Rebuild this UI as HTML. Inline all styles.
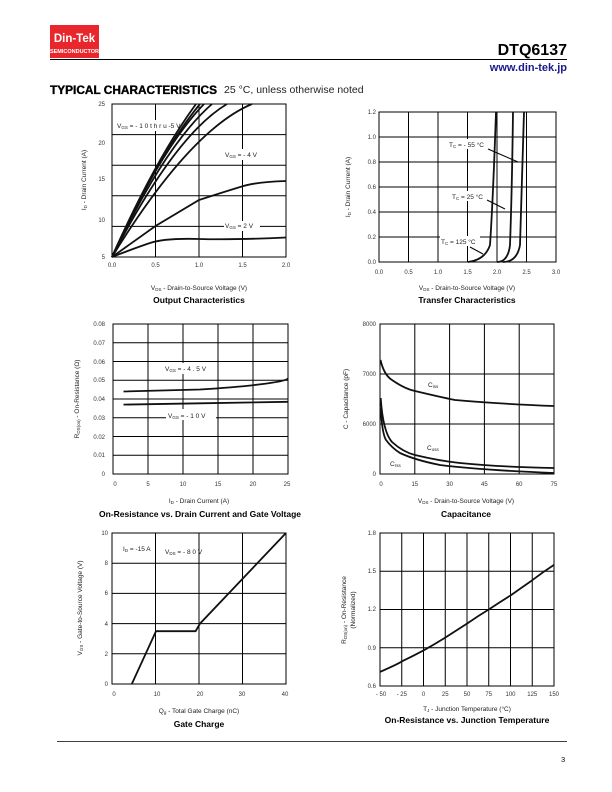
<!DOCTYPE html>
<html><head><meta charset="utf-8"><style>
html,body{margin:0;padding:0;background:#fff}
svg{display:block;font-family:"Liberation Sans",Arial,sans-serif}
.t{font-size:6.5px;fill:#222}
.ax{font-size:6px;fill:#333}
.ti{font-size:8.5px;font-weight:bold;fill:#000}
.g{stroke:#000;stroke-width:1;fill:none}
.c{stroke:#111;stroke-width:1.8;fill:none}
</style></head><body>
<svg width="612" height="792" viewBox="0 0 612 792">
<!-- header -->
<rect x="50" y="25" width="49" height="33" fill="#e8262b"/>
<text x="74.5" y="42" text-anchor="middle" font-size="11.5" font-weight="bold" fill="#fff">Din-Tek</text>
<text x="74.5" y="53" text-anchor="middle" font-size="5.5" font-weight="bold" fill="#fff">SEMICONDUCTOR</text>
<text x="567" y="55" text-anchor="end" font-size="16" font-weight="bold">DTQ6137</text>
<line x1="50" y1="59.5" x2="567" y2="59.5" stroke="#000" stroke-width="1"/>
<text x="567" y="71" text-anchor="end" font-size="11" font-weight="bold" fill="#1a1a8c">www.din-tek.jp</text>
<text x="50" y="94" font-size="11.5" font-weight="bold" stroke="#000" stroke-width="0.35" textLength="167" lengthAdjust="spacingAndGlyphs">TYPICAL CHARACTERISTICS</text>
<text x="224" y="93" font-size="10.5" fill="#222">25 °C, unless otherwise noted</text>

<!-- Plot1 -->
<g>
<rect x="112" y="104" width="174" height="153" class="g"/>
<path class="g" d="M155.5 104V257M199 104V257M242.5 104V257M112 134.6H286M112 165.2H286M112 195.8H286M112 226.4H286"/>
<path class="c" d="M112 257Q135 248 150 243T199 239T286 237.5"/>
<path class="c" d="M112 257L155.5 226L199 200Q230 190 243.5 186T286 181"/>
<path class="c" d="M112 257Q190 130 252 104"/>
<path class="c" d="M112 257Q175 135 227 104"/>
<path class="c" d="M112 257Q165 145 212 104"/>
<path class="c" d="M112 257Q160 150 204 104"/>
<path class="c" d="M112 257Q158 155 200 104"/>
<path class="c" d="M112 257Q155 160 196 104"/>
<rect x="116" y="120" width="46" height="11" fill="#fff"/>
<text x="117" y="128" class="t">V<tspan font-size="4.5" dy="1">GS</tspan><tspan dy="-1"> = - 1 0 t h r u -5 V</tspan></text>
<rect x="224" y="149" width="42" height="11" fill="#fff"/>
<text x="225" y="157" class="t">V<tspan font-size="4.5" dy="1">GS</tspan><tspan dy="-1"> = - 4  V</tspan></text>
<rect x="224" y="221" width="36" height="10" fill="#fff"/>
<text x="225" y="228" class="t">V<tspan font-size="4.5" dy="1">GS</tspan><tspan dy="-1"> = 2 V</tspan></text>
<g class="ax" text-anchor="end"><text x="105" y="106">25</text><text x="105" y="145">20</text><text x="105" y="181">15</text><text x="105" y="222">10</text><text x="105" y="259">5</text></g>
<g class="ax" text-anchor="middle"><text x="112" y="267">0.0</text><text x="155.5" y="267">0.5</text><text x="199" y="267">1.0</text><text x="242.5" y="267">1.5</text><text x="286" y="267">2.0</text></g>
<text x="199" y="290" class="t" text-anchor="middle">V<tspan font-size="4.5" dy="1">DS</tspan><tspan dy="-1"> - Drain-to-Source Voltage (V)</tspan></text>
<text x="199" y="303" class="ti" text-anchor="middle">Output Characteristics</text>
<text transform="translate(86 180) rotate(-90)" class="t" text-anchor="middle">I<tspan font-size="4.5" dy="1">D</tspan><tspan dy="-1"> - Drain Current (A)</tspan></text>
</g>

<!-- Plot2 -->
<g>
<rect x="379" y="112" width="177" height="150" class="g"/>
<path class="g" d="M408.5 112V262M438 112V262M467.5 112V262M497 112V262M526.5 112V262M379 137H556M379 162H556M379 187H556M379 212H556M379 237H556"/>
<path class="c" d="M468 262Q485 260 490 245Q493 200 496 112"/>
<path class="c" d="M497 262Q508 262 510 245Q512 190 513 112"/>
<path class="c" d="M503 262Q517 262 520 245Q522 180 524 112"/>
<rect x="448" y="139" width="44" height="10" fill="#fff"/>
<text x="449" y="147" class="t">T<tspan font-size="4.5" dy="1">C</tspan><tspan dy="-1"> = - 55 °C</tspan></text>
<line x1="488" y1="149" x2="518" y2="162" stroke="#000" stroke-width="1"/>
<rect x="451" y="191" width="40" height="10" fill="#fff"/>
<text x="452" y="199" class="t">T<tspan font-size="4.5" dy="1">C</tspan><tspan dy="-1"> = 25 °C</tspan></text>
<line x1="487" y1="200" x2="505" y2="209" stroke="#000" stroke-width="1"/>
<rect x="440" y="236" width="40" height="10" fill="#fff"/>
<text x="441" y="244" class="t">T<tspan font-size="4.5" dy="1">C</tspan><tspan dy="-1"> = 125 °C</tspan></text>
<line x1="470" y1="247" x2="483" y2="254" stroke="#000" stroke-width="1"/>
<g class="ax" text-anchor="end"><text x="376" y="114">1.2</text><text x="376" y="139">1.0</text><text x="376" y="164">0.8</text><text x="376" y="189">0.6</text><text x="376" y="214">0.4</text><text x="376" y="239">0.2</text><text x="376" y="264">0.0</text></g>
<g class="ax" text-anchor="middle"><text x="379" y="274">0.0</text><text x="408.5" y="274">0.5</text><text x="438" y="274">1.0</text><text x="467.5" y="274">1.5</text><text x="497" y="274">2.0</text><text x="526.5" y="274">2.5</text><text x="556" y="274">3.0</text></g>
<text x="467" y="290" class="t" text-anchor="middle">V<tspan font-size="4.5" dy="1">DS</tspan><tspan dy="-1"> - Drain-to-Source Voltage (V)</tspan></text>
<text x="467" y="303" class="ti" text-anchor="middle">Transfer Characteristics</text>
<text transform="translate(350 187) rotate(-90)" class="t" text-anchor="middle">I<tspan font-size="4.5" dy="1">D</tspan><tspan dy="-1"> - Drain Current (A)</tspan></text>
</g>

<!-- Plot3 -->
<g>
<rect x="113" y="324" width="175" height="150" class="g"/>
<path class="g" d="M148 324V474M183 324V474M218 324V474M253 324V474M113 342.75H288M113 361.5H288M113 380.25H288M113 399H288M113 417.75H288M113 436.5H288M113 455.25H288"/>
<path class="c" d="M123.5 391.5L200 389.5Q240 387 263 384T288 378.4"/>
<path class="c" d="M123.5 404.6L200 403.3L288 401.8"/>
<rect x="162" y="363" width="52" height="11" fill="#fff"/>
<text x="165" y="371" class="t">V<tspan font-size="4.5" dy="1">GS</tspan><tspan dy="-1"> = - 4 . 5  V</tspan></text>
<rect x="166" y="409" width="50" height="11" fill="#fff"/>
<text x="168" y="418" class="t">V<tspan font-size="4.5" dy="1">GS</tspan><tspan dy="-1"> = - 1 0  V</tspan></text>
<g class="ax" text-anchor="end"><text x="105" y="326">0.08</text><text x="105" y="345">0.07</text><text x="105" y="364">0.06</text><text x="105" y="382">0.05</text><text x="105" y="401">0.04</text><text x="105" y="420">0.03</text><text x="105" y="439">0.02</text><text x="105" y="457">0.01</text><text x="105" y="476">0</text></g>
<g class="ax" text-anchor="middle"><text x="115" y="486">0</text><text x="148" y="486">5</text><text x="183" y="486">10</text><text x="218" y="486">15</text><text x="253" y="486">20</text><text x="287" y="486">25</text></g>
<text x="199" y="503" class="t" text-anchor="middle">I<tspan font-size="4.5" dy="1">D</tspan><tspan dy="-1"> - Drain Current (A)</tspan></text>
<text x="200" y="517" class="ti" text-anchor="middle">On-Resistance vs. Drain Current and Gate Voltage</text>
<text transform="translate(79 399) rotate(-90)" class="t" text-anchor="middle">R<tspan font-size="4.5" dy="1">DS(on)</tspan><tspan dy="-1"> - On-Resistance (Ω)</tspan></text>
</g>

<!-- Plot4 -->
<g>
<rect x="380" y="324" width="174" height="150" class="g"/>
<path class="g" d="M414.8 324V474M449.6 324V474M484.4 324V474M519.2 324V474M380 374H554M380 424H554"/>
<path class="c" d="M380.5 360Q384 375 392 380Q405 389 415 391Q440 397 455 400Q500 404 554 406"/>
<path class="c" stroke="#555" d="M380.7 398Q383 432 392 442Q403 452 415 455Q440 461 460 463Q500 467 554 468"/>
<path class="c" d="M380.7 408Q382 433 386 440Q392 448 400 453Q415 460 440 465Q480 470 554 473"/>
<text x="428" y="387" class="t">C<tspan font-size="4.5" dy="1">iss</tspan></text>
<text x="427" y="450" class="t">C<tspan font-size="4.5" dy="1">oss</tspan></text>
<text x="390" y="466" class="t">C<tspan font-size="4.5" dy="1">rss</tspan></text>
<g class="ax" text-anchor="end"><text x="376" y="326">8000</text><text x="376" y="376">7000</text><text x="376" y="426">6000</text><text x="376" y="476">0</text></g>
<g class="ax" text-anchor="middle"><text x="381" y="486">0</text><text x="414.8" y="486">15</text><text x="449.6" y="486">30</text><text x="484.4" y="486">45</text><text x="519.2" y="486">60</text><text x="554" y="486">75</text></g>
<text x="466" y="503" class="t" text-anchor="middle">V<tspan font-size="4.5" dy="1">DS</tspan><tspan dy="-1"> - Drain-to-Source Voltage (V)</tspan></text>
<text x="466" y="517" class="ti" text-anchor="middle">Capacitance</text>
<text transform="translate(348 399) rotate(-90)" class="t" text-anchor="middle">C - Capacitance (pF)</text>
</g>

<!-- Plot5 -->
<g>
<rect x="112" y="533" width="174" height="151" class="g"/>
<path class="g" d="M155.5 533V684M199 533V684M242.5 533V684M112 563.2H286M112 593.4H286M112 623.6H286M112 653.8H286"/>
<path class="c" d="M131.8 684L156 631.2L195.6 631.2L200 623.6L286 533"/>
<rect x="121" y="543" width="34" height="10" fill="#fff"/>
<text x="123" y="551" class="t">I<tspan font-size="4.5" dy="1">D</tspan><tspan dy="-1"> = -15 A</tspan></text>
<text x="165" y="554" class="t">V<tspan font-size="4.5" dy="1">DS</tspan><tspan dy="-1"> = - 8 0  V</tspan></text>
<g class="ax" text-anchor="end"><text x="108" y="535">10</text><text x="108" y="565">8</text><text x="108" y="595">6</text><text x="108" y="626">4</text><text x="108" y="656">2</text><text x="108" y="686">0</text></g>
<g class="ax" text-anchor="middle"><text x="114" y="696">0</text><text x="157" y="696">10</text><text x="200" y="696">20</text><text x="242" y="696">30</text><text x="285" y="696">40</text></g>
<text x="199" y="713" class="t" text-anchor="middle">Q<tspan font-size="4.5" dy="1">g</tspan><tspan dy="-1"> - Total Gate Charge (nC)</tspan></text>
<text x="199" y="727" class="ti" text-anchor="middle">Gate Charge</text>
<text transform="translate(82 608) rotate(-90)" class="t" text-anchor="middle">V<tspan font-size="4.5" dy="1">GS</tspan><tspan dy="-1"> - Gate-to-Source Voltage (V)</tspan></text>
</g>

<!-- Plot6 -->
<g>
<rect x="380" y="533" width="174" height="153" class="g"/>
<path class="g" d="M401.75 533V686M423.5 533V686M445.25 533V686M467 533V686M488.75 533V686M510.5 533V686M532.25 533V686M380 571.25H554M380 609.5H554M380 647.75H554"/>
<path class="c" d="M380 671.9Q400 663 401.75 661.4Q413 656 423.5 650.4Q435 644 445.25 637.6Q457 630 467 623.6Q478 616 488.75 609.5Q500 602 510.5 595.5Q521 588 532.25 580.2Q543 572 554 564.9"/>
<g class="ax" text-anchor="end"><text x="376" y="535">1.8</text><text x="376" y="573">1.5</text><text x="376" y="611">1.2</text><text x="376" y="650">0.9</text><text x="376" y="688">0.6</text></g>
<g class="ax" text-anchor="middle"><text x="381" y="696">- 50</text><text x="401.75" y="696">- 25</text><text x="423.5" y="696">0</text><text x="445.25" y="696">25</text><text x="467" y="696">50</text><text x="488.75" y="696">75</text><text x="510.5" y="696">100</text><text x="532.25" y="696">125</text><text x="554" y="696">150</text></g>
<text x="467" y="711" class="t" text-anchor="middle">T<tspan font-size="4.5" dy="1">J</tspan><tspan dy="-1"> - Junction Temperature (°C)</tspan></text>
<text x="467" y="723" class="ti" text-anchor="middle">On-Resistance vs. Junction Temperature</text>
<text transform="translate(346 610) rotate(-90)" class="t" text-anchor="middle">R<tspan font-size="4.5" dy="1">DS(on)</tspan><tspan dy="-1"> - On-Resistance</tspan></text>
<text transform="translate(355 610) rotate(-90)" class="t" text-anchor="middle">(Normalized)</text>
</g>

<line x1="57" y1="741.5" x2="567" y2="741.5" stroke="#000" stroke-width="0.8"/>
<text x="561" y="762" font-size="7.5">3</text>
</svg>
</body></html>
